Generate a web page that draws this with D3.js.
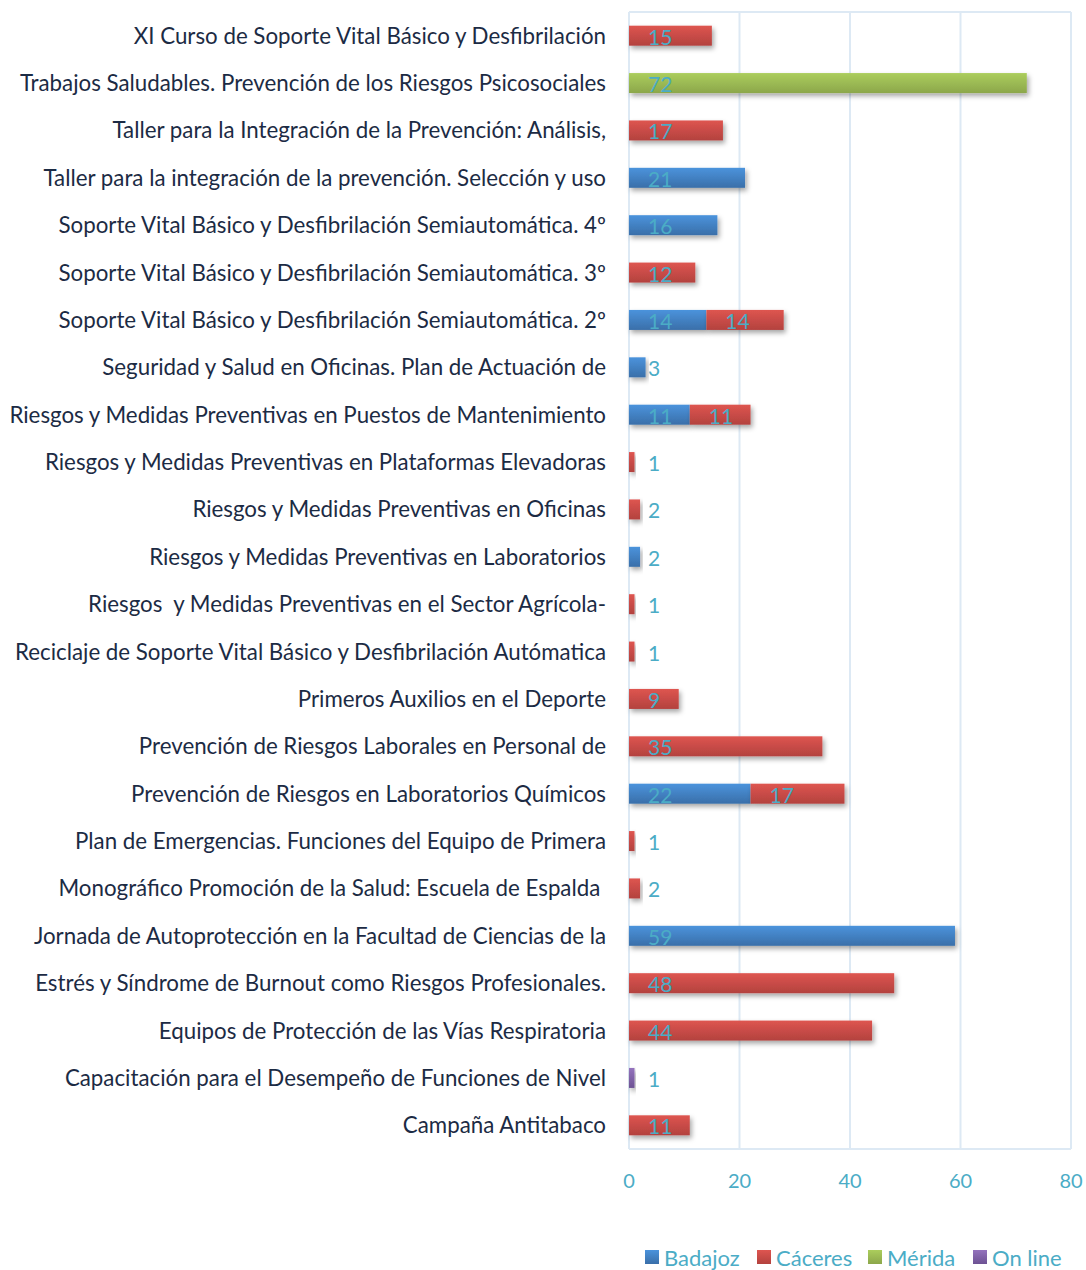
<!DOCTYPE html>
<html>
<head>
<meta charset="utf-8">
<script src="https://cdn.jsdelivr.net/npm/d3@7"></script>
<style>
  body { margin: 0; background: #fff; }
  svg { font-family: Lato, "Noto Sans", sans-serif; }
</style>
</head>
<body>
<div id="chart"></div>
<script>
// courses, top to bottom as shown
const courses = [
  "XI Curso de Soporte Vital Básico y Desfibrilación",
  "Trabajos Saludables. Prevención de los Riesgos Psicosociales",
  "Taller para la Integración de la Prevención: Análisis,",
  "Taller para la integración de la prevención. Selección y uso",
  "Soporte Vital Básico y Desfibrilación Semiautomática. 4º",
  "Soporte Vital Básico y Desfibrilación Semiautomática. 3º",
  "Soporte Vital Básico y Desfibrilación Semiautomática. 2º",
  "Seguridad y Salud en Oficinas. Plan de Actuación de",
  "Riesgos y Medidas Preventivas en Puestos de Mantenimiento",
  "Riesgos y Medidas Preventivas en Plataformas Elevadoras",
  "Riesgos y Medidas Preventivas en Oficinas",
  "Riesgos y Medidas Preventivas en Laboratorios",
  "Riesgos  y Medidas Preventivas en el Sector Agrícola-",
  "Reciclaje de Soporte Vital Básico y Desfibrilación Autómatica",
  "Primeros Auxilios en el Deporte",
  "Prevención de Riesgos Laborales en Personal de",
  "Prevención de Riesgos en Laboratorios Químicos",
  "Plan de Emergencias. Funciones del Equipo de Primera",
  "Monográfico Promoción de la Salud: Escuela de Espalda ",
  "Jornada de Autoprotección en la Facultad de Ciencias de la",
  "Estrés y Síndrome de Burnout como Riesgos Profesionales.",
  "Equipos de Protección de las Vías Respiratoria",
  "Capacitación para el Desempeño de Funciones de Nivel",
  "Campaña Antitabaco"
];

const badajoz = [0, 0, 0, 21, 16, 0, 14, 3, 11, 0, 0, 2, 0, 0, 0, 0, 22, 0, 0, 59, 0, 0, 0, 0];
const caceres = [15, 0, 17, 0, 0, 12, 14, 0, 11, 1, 2, 0, 1, 1, 9, 35, 17, 1, 2, 0, 48, 44, 0, 11];
const merida  = [0, 72, 0, 0, 0, 0, 0, 0, 0, 0, 0, 0, 0, 0, 0, 0, 0, 0, 0, 0, 0, 0, 0, 0];
const online  = [0, 0, 0, 0, 0, 0, 0, 0, 0, 0, 0, 0, 0, 0, 0, 0, 0, 0, 0, 0, 0, 0, 1, 0];

const seriesNames = ["Badajoz", "Cáceres", "Mérida", "On line"];
const xTicks = [0, 20, 40, 60, 80];

const seriesValues = [badajoz, caceres, merida, online];
const colors = [
  { top: "#4b93dc", bottom: "#3a6fa9" },
  { top: "#de5550", bottom: "#b3423e" },
  { top: "#abcd5c", bottom: "#8ca74b" },
  { top: "#9473bd", bottom: "#6d5293" }
];
const labelColor = "#4bacc6";
const gridColor = "#dde9f4";

const width = 1086, height = 1270;
const margin = { top: 12, right: 15, bottom: 121, left: 629 };
const plotW = width - margin.left - margin.right;
const plotH = height - margin.top - margin.bottom;

const svg = d3.select("#chart").append("svg")
  .attr("width", width)
  .attr("height", height);

const defs = svg.append("defs");
colors.forEach((c, i) => {
  const g = defs.append("linearGradient")
    .attr("id", "grad" + i)
    .attr("x1", 0).attr("y1", 0).attr("x2", 0).attr("y2", 1);
  g.append("stop").attr("offset", "0%").attr("stop-color", c.top);
  g.append("stop").attr("offset", "100%").attr("stop-color", c.bottom);
});
const shadow = defs.append("filter").attr("id", "shadow")
  .attr("x", "-10%").attr("y", "-30%").attr("width", "130%").attr("height", "180%");
shadow.append("feDropShadow")
  .attr("dx", 2).attr("dy", 3).attr("stdDeviation", 2.5)
  .attr("flood-color", "#000").attr("flood-opacity", 0.35);

const g = svg.append("g").attr("transform", `translate(${margin.left},${margin.top})`);

const x = d3.scaleLinear().domain([0, 80]).range([0, plotW]);
const y = d3.scaleBand().domain(d3.range(courses.length)).range([0, plotH]).paddingInner(0.578).paddingOuter(0.289);

// grid + frame
g.append("g").selectAll("line").data(xTicks).join("line")
  .attr("x1", d => x(d)).attr("x2", d => x(d))
  .attr("y1", 0).attr("y2", plotH)
  .attr("stroke", gridColor).attr("stroke-width", 2);
g.append("line").attr("x1", 0).attr("x2", plotW).attr("y1", 0).attr("y2", 0)
  .attr("stroke", gridColor).attr("stroke-width", 2);
g.append("line").attr("x1", 0).attr("x2", plotW).attr("y1", plotH).attr("y2", plotH)
  .attr("stroke", gridColor).attr("stroke-width", 2);

// stacked segments
const segments = [];
courses.forEach((c, i) => {
  let start = 0;
  seriesValues.forEach((vals, s) => {
    const v = vals[i];
    if (v > 0) {
      segments.push({ i, s, v, x0: start, x1: start + v });
      start += v;
    }
  });
});

g.append("g").selectAll("rect").data(segments).join("rect")
  .attr("x", d => x(d.x0))
  .attr("y", d => y(d.i))
  .attr("width", d => x(d.x1) - x(d.x0))
  .attr("height", y.bandwidth())
  .attr("fill", d => `url(#grad${d.s})`)
  .attr("filter", "url(#shadow)");

g.append("g").selectAll("text").data(segments).join("text")
  .attr("x", d => x(d.x0) + 19)
  .attr("y", d => y(d.i) + y.bandwidth() - 1)
  .attr("fill", labelColor)
  .attr("font-size", 21)
  .text(d => d.v);

// category labels
g.append("g").selectAll("text").data(courses).join("text")
  .attr("x", -23)
  .attr("y", (d, i) => y(i) + y.bandwidth() / 2)
  .attr("dy", "0.36em")
  .attr("text-anchor", "end")
  .attr("fill", "#1c2b44")
  .attr("font-size", 22.3)
  .style("white-space", "pre")
  .text(d => d);

// x axis labels
g.append("g").selectAll("text").data(xTicks).join("text")
  .attr("x", d => x(d))
  .attr("y", plotH + 32)
  .attr("dy", "0.36em")
  .attr("text-anchor", "middle")
  .attr("fill", labelColor)
  .attr("font-size", 20)
  .text(d => d);

// legend
const legendX = [645, 757, 868, 973];
const legend = svg.append("g");
seriesNames.forEach((name, s) => {
  legend.append("rect")
    .attr("x", legendX[s]).attr("y", 1250)
    .attr("width", 14).attr("height", 14)
    .attr("fill", `url(#grad${s})`);
  legend.append("text")
    .attr("x", legendX[s] + 19).attr("y", 1258)
    .attr("dy", "0.36em")
    .attr("fill", labelColor)
    .attr("font-size", 22)
    .text(name);
});
</script>
</body>
</html>
